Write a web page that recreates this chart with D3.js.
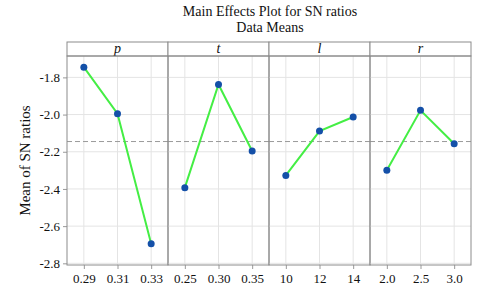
<!DOCTYPE html>
<html><head><meta charset="utf-8">
<script src="https://cdn.jsdelivr.net/npm/d3@7"></script>
<style>body{margin:0;background:#fff}svg{display:block}svg text{font-family:"Liberation Serif","Times New Roman",serif !important}</style>
</head><body>
<script>
const factors = ["p", "t", "l", "r"];
const levels = [["0.29","0.31","0.33"],["0.25","0.30","0.35"],["10","12","14"],["2.0","2.5","3.0"]];
const meansP = [-1.745, -1.995, -2.695];
const meansT = [-2.393, -1.838, -2.196];
const meansL = [-2.327, -2.089, -2.013];
const meansR = [-2.300, -1.977, -2.157];
const series = [meansP, meansT, meansL, meansR];
const grandMean = -2.145;
const yTicks = [-1.8, -2.0, -2.2, -2.4, -2.6, -2.8];
const title1 = "Main Effects Plot for SN ratios";
const title2 = "Data Means";
const yTitle = "Mean of SN ratios";

(function(){
const W = 480, H = 297;
const pLeft = 67, pRight = 471, stripTop = 42, pTop = 56, pBottom = 265;
const svg = d3.select("body").append("svg").attr("width", W).attr("height", H);

svg.append("text").attr("x", 270).attr("y", 16).attr("text-anchor","middle")
  .attr("font-size", 14).attr("fill","#111").text(title1);
svg.append("text").attr("x", 270).attr("y", 32).attr("text-anchor","middle")
  .attr("font-size", 14).attr("fill","#111").text(title2);

const y = d3.scaleLinear().domain([-2.809, -1.685]).range([pBottom, pTop]);
const panelX = d3.scaleBand().domain(factors).range([pLeft, pRight]).padding(0);
const pw = panelX.bandwidth();

const yAxis = svg.append("g").attr("transform", `translate(${pLeft},0)`)
  .call(d3.axisLeft(y).tickValues(yTicks).tickSize(4).tickPadding(3).tickFormat(d3.format(".1f")));
yAxis.select(".domain").remove();
yAxis.selectAll("line").attr("stroke","#999");
yAxis.selectAll("text").attr("font-size", 13).attr("fill","#111")
  .text(d => d3.format(".1f")(d).replace("\u2212","-"));

svg.append("text").attr("transform", `translate(30,${(pTop+pBottom)/2}) rotate(-90)`)
  .attr("text-anchor","middle").attr("font-size", 15).attr("fill","#111").text(yTitle);

factors.forEach((f, i) => {
  const x0 = panelX(f);
  const x = d3.scalePoint().domain(levels[i]).range([x0, x0 + pw]).padding(0.5);
  const g = svg.append("g");
  g.selectAll(".hg").data(yTicks).join("line")
    .attr("x1", x0).attr("x2", x0 + pw).attr("y1", d => y(d)).attr("y2", d => y(d))
    .attr("stroke", "#e4e4e4").attr("stroke-width", 1);
  g.selectAll(".vg").data(levels[i]).join("line")
    .attr("x1", d => x(d)).attr("x2", d => x(d)).attr("y1", pTop).attr("y2", pBottom)
    .attr("stroke", "#e4e4e4").attr("stroke-width", 1);
  g.append("line").attr("x1", x0).attr("x2", x0 + pw).attr("y1", y(grandMean)).attr("y2", y(grandMean))
    .attr("stroke", "#9a9a9a").attr("stroke-width", 1).attr("stroke-dasharray", "5,3");
  const xa = svg.append("g").attr("transform", `translate(0,${pBottom})`)
    .call(d3.axisBottom(x).tickSize(4).tickPadding(5));
  xa.select(".domain").remove();
  xa.selectAll("line").attr("stroke", "#999");
  xa.selectAll("text").attr("font-size", 13).attr("fill", "#111");
  const vals = series[i];
  const data = levels[i].map((l, j) => ({l, v: vals[j]}));
  g.append("path").datum(data)
    .attr("d", d3.line().x(d => x(d.l)).y(d => y(d.v)))
    .attr("fill", "none").attr("stroke", "#44ee44").attr("stroke-width", 2);
  g.selectAll("circle").data(data).join("circle")
    .attr("cx", d => x(d.l)).attr("cy", d => y(d.v)).attr("r", 3.5).attr("fill", "#1450a8");
  svg.append("rect").attr("x", x0).attr("y", stripTop).attr("width", pw).attr("height", pTop - stripTop)
    .attr("fill", "#fff").attr("stroke", "#8c8c8c").attr("stroke-width", 1);
  svg.append("text").attr("x", x0 + pw/2).attr("y", pTop - 3).attr("text-anchor", "middle")
    .attr("font-style", "italic").attr("font-size", 14).attr("fill", "#111").text(f);
  svg.append("rect").attr("x", x0).attr("y", pTop).attr("width", pw).attr("height", pBottom - pTop)
    .attr("fill", "none").attr("stroke", "#8c8c8c").attr("stroke-width", 1);
});
})();
</script>
</body></html>
